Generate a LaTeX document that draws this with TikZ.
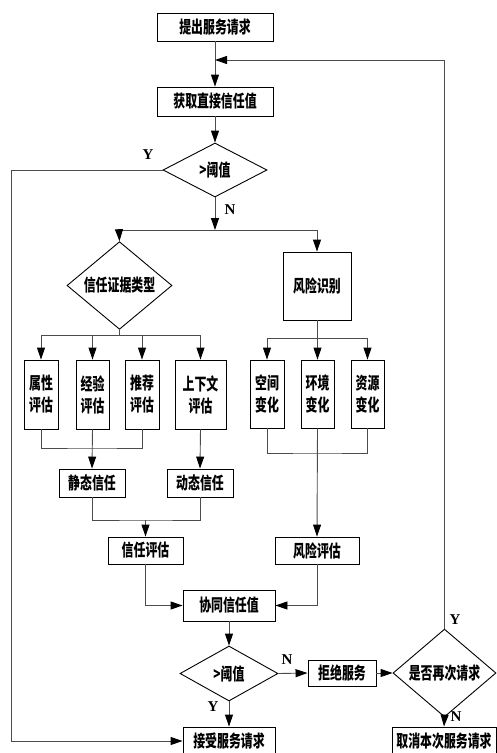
\documentclass[tikz,border=0pt]{standalone}
\usepackage{fontspec}
\usetikzlibrary{shapes.geometric,arrows.meta}
\newfontfamily\cjk[FakeStretch=0.7]{Noto Sans CJK SC Black}
\newfontfamily\latf{Liberation Serif}
\tikzset{
  box/.style={draw=black, line width=0.9pt, inner sep=0pt, align=center,
    font=\cjk\fontsize{17}{22}\selectfont},
  dia/.style={diamond, draw=black, line width=0.9pt, inner sep=0pt, align=center,
    font=\cjk\fontsize{17}{22}\selectfont},
  ln/.style={draw=black!70, line width=0.9pt},
  arr/.style={ln, -{Triangle[length=12pt,width=8pt,color=black]}},
  lab/.style={font=\latf\bfseries\fontsize{15}{15}\selectfont, inner sep=0pt},
}
\begin{document}
\begin{tikzpicture}[x=1pt,y=-1pt]
\useasboundingbox (0,0) rectangle (496,753);
% nodes
\node[box, minimum width=116, minimum height=28] (req) at (215,27) {提出服务请求};
\node[box, minimum width=116, minimum height=29] (get) at (215,101.5) {获取直接信任值};
\node[dia, minimum width=104, minimum height=54] (d1) at (215,170) {>阈值};
\node[dia, minimum width=105, minimum height=67] (evid) at (119.5,285.5) {信任证据类型};
\node[box, minimum width=68, minimum height=68] (risk) at (317,286) {风险识别};
\node[box, minimum width=34, minimum height=69] (a1) at (41,394.5) {属性\\评估};
\node[box, minimum width=33, minimum height=69] (a2) at (92.5,394.5) {经验\\评估};
\node[box, minimum width=34, minimum height=69] (a3) at (142,394.5) {推荐\\评估};
\node[box, minimum width=51, minimum height=69] (a4) at (200.5,394.5) {上下文\\评估};
\node[box, minimum width=34, minimum height=68] (r1) at (267,394) {空间\\变化};
\node[box, minimum width=33, minimum height=68] (r2) at (317.5,394) {环境\\变化};
\node[box, minimum width=33, minimum height=68] (r3) at (367.5,394) {资源\\变化};
\node[box, minimum width=66, minimum height=28] (st) at (92,483) {静态信任};
\node[box, minimum width=66, minimum height=28] (dy) at (200,483) {动态信任};
\node[box, minimum width=75, minimum height=27] (te) at (145.5,550.5) {信任评估};
\node[box, minimum width=84, minimum height=27] (re) at (317,550.5) {风险评估};
\node[box, minimum width=92, minimum height=31] (co) at (229,605.5) {协同信任值};
\node[dia, minimum width=98, minimum height=55] (d2) at (229,673.5) {>阈值};
\node[box, minimum width=68, minimum height=26] (rej) at (342,673) {拒绝服务};
\node[dia, minimum width=103, minimum height=60] (d3) at (444.5,673) {是否再次请求};
\node[box, minimum width=92, minimum height=28] (acc) at (229,741) {接受服务请求};
\node[box, minimum width=104, minimum height=28] (can) at (444,741) {取消本次服务请求};
% coordinates
\coordinate (loop) at (215,60);
\coordinate (br1) at (215,230);
\coordinate (bl) at (119,230);
\coordinate (brr) at (317,230);
\coordinate (e1) at (119.5,335);
\coordinate (k1) at (317,338);
\coordinate (j1) at (92.5,448);
\coordinate (j2) at (317.5,453);
\coordinate (j3) at (145.5,520);
% connectors
\draw[arr] (req.south) -- (get.north);
\draw[arr] (d3.north) |- (loop);
\draw[arr] (get.south) -- (d1.north);
\draw[arr] (d1.west) -| (11,741) -- (acc.west);
\draw[arr] (d1.south) -- (br1);
\draw[ln] (bl) -- (brr);
\draw[arr] (bl) -- (evid.north);
\draw[arr] (brr) -- (risk.north);
\draw[ln] (evid.south) -- (e1);
\draw[ln] (e1 -| a1) -- (e1 -| a4);
\foreach \n in {a1,a2,a3,a4} \draw[arr] (e1 -| \n) -- (\n.north);
\draw[ln] (risk.south) -- (k1);
\draw[ln] (k1 -| r1) -- (k1 -| r3);
\foreach \n in {r1,r2,r3} \draw[arr] (k1 -| \n) -- (\n.north);
\draw[ln] (a1.south) |- (j1) -| (a3.south);
\draw[arr] (a2.south) -- (st.north);
\draw[arr] (a4.south) -- (dy.north);
\draw[ln] (r1.south) |- (j2) -| (r3.south);
\draw[arr] (r2.south) -- (re.north);
\draw[ln] (st.south) |- (j3) -| (dy.south);
\draw[arr] (j3) -- (te.north);
\draw[arr] (te.south) |- (co.west);
\draw[arr] (re.south) |- (co.east);
\draw[arr] (co.south) -- (d2.north);
\draw[arr] (d2.east) -- (rej.west);
\draw[arr] (rej.east) -- (d3.west);
\draw[arr] (d2.south) -- (acc.north);
\draw[arr] (d3.south) -- (can.north);
% labels
\node[lab] (ly1) at (148,155) {Y};
\node[lab] (ln1) at (230,210) {N};
\node[lab] (ln2) at (287,660) {N};
\node[lab] (ly2) at (213,707) {Y};
\node[lab] (ly3) at (455,620) {Y};
\node[lab] (ln3) at (456,717) {N};
\end{tikzpicture}
\end{document}
